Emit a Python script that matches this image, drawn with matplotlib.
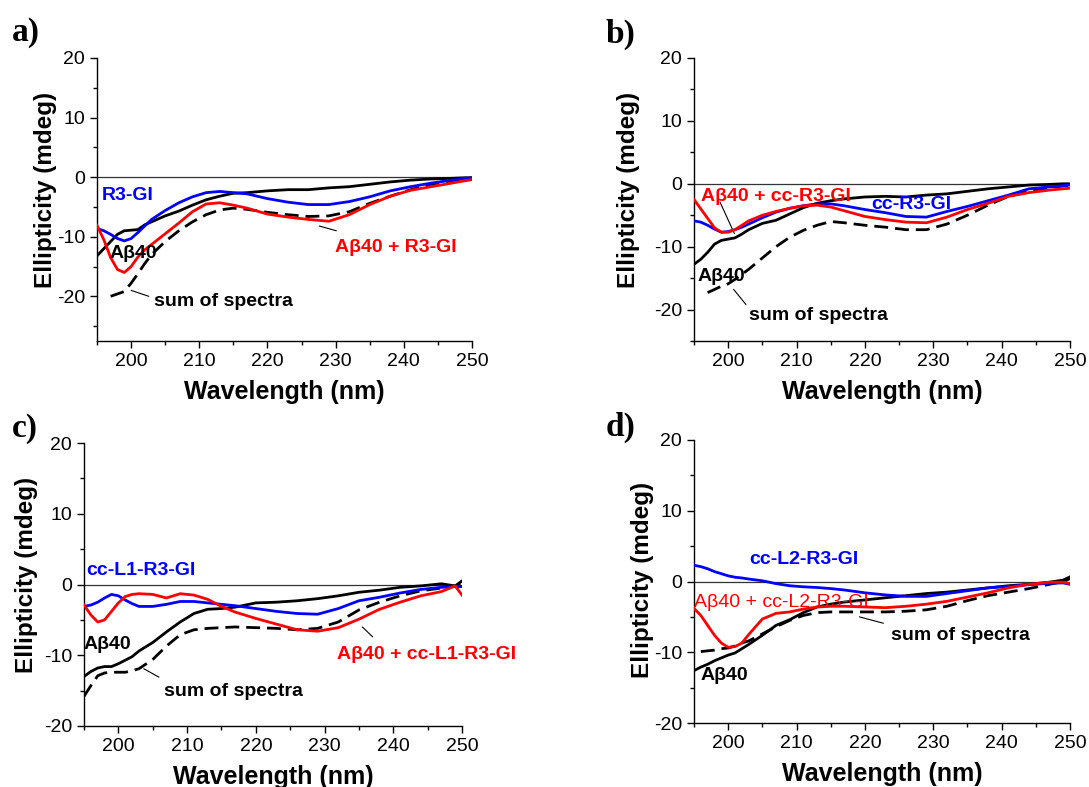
import numpy as np
import matplotlib
matplotlib.use('Agg')
import matplotlib.pyplot as plt
from matplotlib.ticker import MultipleLocator

plt.rcParams['font.family'] = ['Liberation Sans', 'DejaVu Sans']
plt.rcParams['axes.unicode_minus'] = False

nan = np.nan
wl = [195, 196, 197, 198, 199, 200, 201, 202, 203, 205, 207, 209, 211, 213, 215,
      217, 220, 223, 226, 229, 232, 235, 238, 241, 244, 247, 249, 250]

# a) R3-GI
a_abeta = [-13.2, -12.0, -10.8, -9.6, -9.0, -8.9, -8.8, -8.0, -7.5, -6.5, -5.7, -4.7, -3.8, -3.2, -2.7,
           -2.6, -2.3, -2.1, -2.1, -1.8, -1.6, -1.2, -0.8, -0.5, -0.3, -0.2, -0.1, -0.1]
a_pep = [-8.6, -9.0, -9.6, -10.3, -10.7, -10.3, -9.3, -8.2, -7.1, -5.6, -4.3, -3.3, -2.6, -2.4, -2.6,
         -2.8, -3.6, -4.2, -4.6, -4.6, -4.1, -3.3, -2.3, -1.6, -1.0, -0.5, -0.2, -0.1]
a_mix = [-8.1, -10.5, -13.5, -15.5, -16.0, -15.0, -13.4, -12.2, -11.3, -9.5, -7.7, -5.8, -4.5, -4.3, -4.7,
         -5.2, -6.2, -6.7, -7.1, -7.4, -6.3, -4.6, -3.2, -2.2, -1.6, -1.0, -0.6, -0.4]
a_sum = [nan, nan, -20.0, -19.6, -19.2, -17.8, -16.2, -14.5, -13.0, -10.8, -9.0, -7.5, -6.3, -5.5, -5.2,
         -5.4, -5.9, -6.3, -6.6, -6.5, -5.8, -4.4, -3.2, -2.1, -1.2, -0.6, -0.35, -0.3]

# b) cc-R3-GI
b_abeta = [-12.8, -12.0, -10.9, -9.6, -9.0, -8.8, -8.6, -8.0, -7.3, -6.3, -5.8, -4.8, -3.8, -3.1, -2.7,
           -2.4, -2.1, -2.0, -2.1, -1.8, -1.6, -1.2, -0.8, -0.5, -0.2, -0.1, 0.0, 0.0]
b_pep = [-5.9, -6.1, -6.6, -7.2, -7.7, -7.6, -7.3, -6.9, -6.4, -5.4, -4.5, -3.9, -3.5, -3.2, -3.2,
         -3.5, -4.1, -4.6, -5.2, -5.3, -4.4, -3.6, -2.7, -1.8, -0.8, -0.5, -0.3, -0.2]
b_mix = [-2.5, -4.0, -5.5, -7.0, -7.7, -7.7, -7.3, -6.6, -5.9, -5.0, -4.4, -3.9, -3.5, -3.4, -3.7,
         -4.3, -5.2, -5.7, -6.1, -6.2, -5.3, -4.1, -3.1, -2.0, -1.4, -1.0, -0.8, -0.7]
b_sum = [nan, nan, -17.3, -16.8, -16.3, -15.9, -15.2, -14.4, -13.6, -11.8, -10.0, -8.5, -7.4, -6.6, -6.0,
         -6.2, -6.6, -6.9, -7.3, -7.3, -6.4, -5.0, -3.4, -2.0, -1.2, -0.6, -0.35, -0.3]

# c) cc-L1-R3-GI
c_abeta = [-13.0, -12.3, -11.8, -11.6, -11.6, -11.2, -10.7, -10.2, -9.4, -8.2, -6.7, -5.3, -4.1, -3.5, -3.4,
           -3.2, -2.6, -2.5, -2.3, -2.0, -1.6, -1.1, -0.8, -0.4, -0.2, 0.1, -0.2, 0.5]
c_pep = [-3.1, -2.9, -2.5, -1.9, -1.4, -1.6, -2.2, -2.7, -3.1, -3.1, -2.8, -2.4, -2.4, -2.6, -2.8,
         -3.0, -3.4, -3.8, -4.1, -4.2, -3.4, -2.3, -1.8, -1.2, -0.7, -0.4, -0.3, -0.3]
c_mix = [-2.9, -4.3, -5.3, -5.0, -3.8, -2.6, -1.7, -1.4, -1.3, -1.4, -1.9, -1.3, -1.5, -2.1, -3.1,
         -3.9, -4.8, -5.6, -6.4, -6.6, -6.1, -4.9, -3.5, -2.5, -1.6, -1.0, -0.2, -1.5]
c_sum = [-15.8, -14.3, -12.9, -12.5, -12.4, -12.4, -12.4, -12.2, -11.9, -10.6, -8.7, -7.1, -6.4, -6.2, -6.1,
         -6.0, -6.1, -6.2, -6.4, -6.2, -5.3, -3.6, -2.5, -1.6, -0.9, -0.5, -0.2, 0.0]

# d) cc-L2-R3-GI
d_abeta = [-12.6, -12.1, -11.7, -11.2, -10.8, -10.4, -10.1, -9.5, -8.9, -7.6, -6.2, -5.4, -4.4, -3.6, -3.2,
           -2.9, -2.6, -2.3, -2.0, -1.7, -1.5, -1.2, -0.9, -0.6, -0.4, -0.1, 0.2, 0.65]
d_pep = [2.3, 2.1, 1.8, 1.4, 1.1, 0.8, 0.6, 0.5, 0.35, 0.1, -0.3, -0.6, -0.75, -0.85, -1.0,
         -1.2, -1.6, -1.9, -2.1, -2.1, -1.7, -1.3, -0.9, -0.7, -0.45, -0.25, -0.2, -0.4]
d_mix = [-3.8, -4.8, -6.2, -7.6, -8.7, -9.3, -9.2, -8.7, -7.5, -5.3, -4.5, -4.3, -3.9, -3.6, -3.5,
         -3.5, -3.6, -3.7, -3.5, -3.2, -2.8, -2.2, -1.6, -0.9, -0.4, -0.1, -0.1, -0.3]
d_sum = [nan, -9.9, -9.8, -9.7, -9.5, -9.4, -9.1, -8.7, -8.4, -7.4, -6.4, -5.5, -4.8, -4.4, -4.3,
         -4.3, -4.3, -4.3, -4.2, -4.0, -3.5, -2.7, -2.0, -1.5, -1.0, -0.4, 0.0, 0.4]

W, H = 1089, 787
fig = plt.figure(figsize=(W / 100, H / 100), dpi=100)


def px_axes(left, right, top, bottom):
    return fig.add_axes([left / W, 1 - bottom / H, (right - left) / W, (bottom - top) / H])


panels = [
    dict(box=(97, 472, 58, 341), ylim=(-27.5, 20), letter='a)', lpos=(12, 33),
         data=(a_abeta, a_pep, a_mix, a_sum), ylab=(-0.138, 0.534),
         texts=[('R3-GI', 195.7, -3.0, 'blue', 'bold'),
                ('A\u03b240', 196.9, -12.8, 'black', 'bold'),
                ('sum of spectra', 203.3, -20.9, 'black', 'bold'),
                ('A\u03b240 + R3-GI', 229.9, -11.8, 'red', 'bold')],
         leaders=[((200.0, -19.0), (202.6, -20.0)), ((227.6, -8.2), (230.1, -9.0))]),
    dict(box=(694, 1070, 58, 341), ylim=(-25, 20), letter='b)', lpos=(606, 34),
         data=(b_abeta, b_pep, b_mix, b_sum), ylab=(-0.173, 0.534),
         texts=[('A\u03b240 + cc-R3-GI', 196.0, -2.0, 'red', 'bold'),
                ('cc-R3-GI', 220.9, -3.3, 'blue', 'bold'),
                ('A\u03b240', 195.5, -14.7, 'black', 'bold'),
                ('sum of spectra', 203.1, -21.0, 'black', 'bold')],
         leaders=[((198.8, -2.9), (200.9, -7.9)), ((200.8, -16.8), (202.6, -19.2))]),
    dict(box=(84, 462, 443, 726), ylim=(-20, 20), letter='c)', lpos=(12, 428),
         data=(c_abeta, c_pep, c_mix, c_sum), ylab=(-0.153, 0.534),
         texts=[('cc-L1-R3-GI', 195.3, 2.0, 'blue', 'bold'),
                ('A\u03b240', 195.0, -8.5, 'black', 'bold'),
                ('sum of spectra', 206.7, -15.1, 'black', 'bold'),
                ('A\u03b240 + cc-L1-R3-GI', 231.8, -9.9, 'red', 'bold')],
         leaders=[((203.7, -11.9), (205.9, -13.1)), ((235.5, -6.0), (237.0, -7.4))]),
    dict(box=(694, 1070, 440, 723), ylim=(-20, 20), letter='d)', lpos=(606, 427),
         data=(d_abeta, d_pep, d_mix, d_sum), ylab=(-0.136, 0.505),
         texts=[('cc-L2-R3-GI', 203.1, 3.1, 'blue', 'bold'),
                ('A\u03b240 + cc-L2-R3-GI', 195.0, -2.9, 'red', 'normal'),
                ('sum of spectra', 223.8, -7.6, 'black', 'bold'),
                ('A\u03b240', 196.0, -13.3, 'black', 'bold')],
         leaders=[((219.2, -5.0), (222.7, -5.9))]),
]

for p in panels:
    ax = px_axes(*p['box'])
    abeta, pep, mix, summ = p['data']
    ax.axhline(0, color='#333333', lw=0.9, zorder=1)
    ax.plot(wl, summ, color='black', lw=2, dashes=(5, 2.5), zorder=2)
    ax.plot(wl, abeta, color='black', lw=2, zorder=3)
    ax.plot(wl, pep, color='blue', lw=2, zorder=3)
    ax.plot(wl, mix, color='red', lw=2, zorder=4)

    ax.set_xlim(195, 250)
    ax.set_ylim(*p['ylim'])
    ax.xaxis.set_major_locator(MultipleLocator(10))
    ax.xaxis.set_minor_locator(MultipleLocator(5))
    ax.yaxis.set_major_locator(MultipleLocator(10))
    ax.yaxis.set_minor_locator(MultipleLocator(5))
    ax.set_xticks([200, 210, 220, 230, 240, 250])
    ax.tick_params(which='major', direction='out', length=5, width=1, labelsize=14)
    ax.tick_params(which='minor', direction='out', length=3, width=1)
    for s in ['top', 'right']:
        ax.spines[s].set_visible(False)
    for s in ['left', 'bottom']:
        ax.spines[s].set_linewidth(1)

    ax.set_xlabel('Wavelength (nm)', fontsize=18, fontweight='bold')
    ax.xaxis.label.set_va('center')
    ax.xaxis.set_label_coords(0.5, -0.18)
    ax.set_ylabel('Ellipticity (mdeg)', fontsize=17.5, fontweight='bold')
    ax.yaxis.label.set_va('center')
    ax.yaxis.set_label_coords(*p['ylab'])

    for txt, x, y, c, w in p['texts']:
        ax.text(x, y, txt, color=c, fontsize=14, fontweight=w, ha='left', va='center', zorder=5)
    for (x0, y0), (x1, y1) in p['leaders']:
        ax.annotate('', xy=(x1, y1), xytext=(x0, y0),
                    arrowprops=dict(arrowstyle='-', lw=0.8, color='black',
                                    shrinkA=0, shrinkB=0))

    lx, ly = p['lpos']
    fig.text(lx / W, 1 - ly / H, p['letter'], fontsize=24, fontweight='bold',
             family=['Liberation Serif', 'DejaVu Serif'], ha='left', va='center')

fig.savefig('out.png', dpi=100)
